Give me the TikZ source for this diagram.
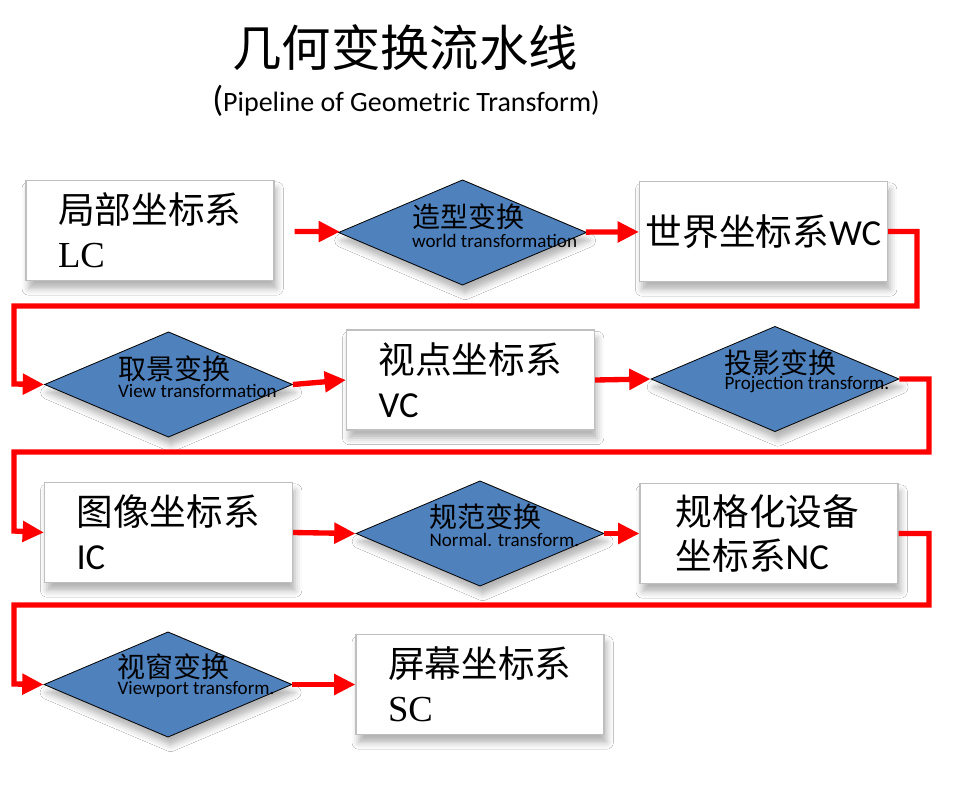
\documentclass[tikz,border=0pt]{standalone}
\usepackage{fontspec}
\setmainfont{Carlito}
\newfontfamily\cjk{Noto Sans CJK SC}
\newfontfamily\serif{Liberation Serif}
\usetikzlibrary{shapes.geometric, arrows.meta, shadows.blur}

\definecolor{stepblue}{HTML}{4F81BD}
\definecolor{boxgray}{HTML}{BFBFBF}
\definecolor{flowred}{HTML}{FF0000}

\tikzset{
  softshadow/.style={blur shadow={shadow xshift=2pt, shadow yshift=-6pt, shadow blur radius=5pt, shadow opacity=30}},
  sysbox/.style={draw=boxgray, line width=0.8pt, fill=white, minimum width=186pt, minimum height=75pt,
    inner sep=0pt, text width=138pt, align=left, font=\fontsize{27.5}{33}\selectfont, softshadow},
  stepdia/.style={diamond, draw=black, line width=0.6pt, fill=stepblue, minimum width=186pt,
    minimum height=79pt, inner sep=0pt, softshadow},
  cnlabel/.style={anchor=west, inner sep=0pt, font=\fontsize{21}{21}\selectfont\cjk},
  enlabel/.style={anchor=west, inner sep=0pt, font=\fontsize{14.3}{14.3}\selectfont},
  flow/.style={draw=flowred, line width=4pt, -{Triangle[length=16pt,width=15pt]}},
}

\begin{document}
\begin{tikzpicture}[x=0.75pt, y=-0.75pt]
% Page size (pixels)
\path[use as bounding box, fill=white] (0,0) rectangle (959,789);

% Title
\node (title) at (405,48) {\fontsize{37}{37}\selectfont\cjk 几何变换流水线};
\node (subtitle) at (406,101) {{\fontsize{27}{27}\selectfont(}\fontsize{21}{21}\selectfont Pipeline of Geometric Transform)};

% Coordinate systems
\node[sysbox] (lc) at (150,230.5) {{\cjk 局部坐标系}\\{\serif LC}};
\node[sysbox, text width=182pt, align=center] (wc) at (763.5,231.5) {{\cjk 世界坐标系}WC};
\node[sysbox] (vc) at (470.5,380) {{\cjk 视点坐标系}\\VC};
\node[sysbox] (ic) at (168.5,532.5) {{\cjk 图像坐标系}\\IC};
\node[sysbox, minimum width=193.5pt, text width=140pt] (nc) at (769,533.5) {{\cjk 规格化设备}\\{\cjk 坐标系}NC};
\node[sysbox] (sc) at (480,684.5) {{\cjk 屏幕坐标系}\\{\serif SC}};

% Transformations
\node[stepdia] (world) at (462.5,232.5) {};
\node[cnlabel] (worldcn) at ([xshift=-38pt, yshift=11.5pt]world.center) {造型变换};
\node[enlabel] (worlden) at ([xshift=-38pt, yshift=-6pt]world.center) {world transformation};
\node[stepdia] (view) at (168.5,384.5) {};
\node[cnlabel] (viewcn) at ([xshift=-38pt, yshift=12pt]view.center) {取景变换};
\node[enlabel] (viewen) at ([xshift=-38pt, yshift=-5pt]view.center) {View transformation};
\node[stepdia] (proj) at (775,379) {};
\node[cnlabel] (projcn) at ([xshift=-38pt, yshift=12.5pt]proj.center) {投影变换};
\node[enlabel] (projen) at ([xshift=-38pt, yshift=-4.5pt]proj.center) {Projection transform.};
\node[stepdia] (norm) at (480,533.5) {};
\node[cnlabel] (normcn) at ([xshift=-38pt, yshift=12.5pt]norm.center) {规范变换};
\node[enlabel] (normen) at ([xshift=-38pt, yshift=-5pt]norm.center) {Normal. transform.};
\node[stepdia] (port) at (168,684.5) {};
\node[cnlabel] (portcn) at ([xshift=-38pt, yshift=13pt]port.center) {视窗变换};
\node[enlabel] (porten) at ([xshift=-38pt, yshift=-4pt]port.center) {Viewport transform.};

% Turning points of the long connectors
\coordinate (wcturn) at (917,306);
\coordinate (wcback) at (14,384);
\coordinate (projturn) at (929,452);
\coordinate (projback) at (14,531);
\coordinate (ncturn) at (929,605);
\coordinate (ncback) at (14,684);

% Connectors
\draw[flow, shorten <=15pt] (lc) -- (world);
\draw[flow] (world) -- (wc);
\draw[flow] (wc.east) -| (wcturn) -| (wcback) -- (view.west);
\draw[flow] (view.east) -- (vc.west);
\draw[flow] (vc.east) -- (proj.west);
\draw[flow] (proj.east) -| (projturn) -| (projback) -- (ic.west);
\draw[flow] (ic.east) -- (norm.west);
\draw[flow] (norm.east) -- (nc.west);
\draw[flow] (nc.east) -| (ncturn) -| (ncback) -- (port.west);
\draw[flow] (port.east) -- (sc.west);
\end{tikzpicture}
\end{document}
